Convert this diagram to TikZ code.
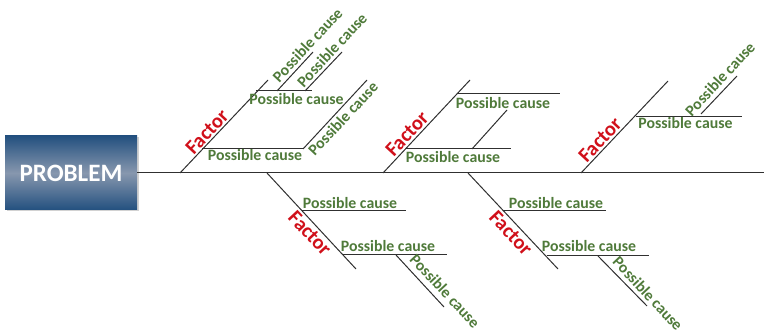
\documentclass[tikz,border=0pt]{standalone}
\usepackage{fontspec}
\setmainfont{Carlito}
\usetikzlibrary{shadows}
\definecolor{causegreen}{HTML}{4F7A3A}
\definecolor{factorred}{HTML}{D0101A}
\definecolor{boxdark}{HTML}{23507F}
\definecolor{boxlight}{HTML}{8797AE}
\definecolor{linegray}{HTML}{303030}
\tikzset{
  bone/.style={draw=linegray, line width=1pt},
  cause/.style={text=causegreen, font=\fontsize{15.8}{16}\selectfont\bfseries, inner sep=0pt},
  factor/.style={text=factorred, font=\fontsize{20.5}{20}\selectfont\bfseries, inner sep=0pt},
  problem/.style={draw=none, minimum width=132pt, minimum height=74pt, inner sep=0pt,
    top color=boxdark, bottom color=boxdark, middle color=boxlight,
    drop shadow={shadow xshift=1.5pt, shadow yshift=-1.5pt, fill=black!35},
    text=white, font=\fontsize{25}{25}\selectfont\bfseries},
}
\begin{document}
\begin{tikzpicture}[x=1pt,y=-1pt]
\useasboundingbox (0,0) rectangle (764,331);
\node[problem] (P) at (71,173) {PROBLEM};
\coordinate (S) at (764,173);
\draw[bone] (P.east) -- (S);

% top factor 1
\draw[bone] (180,173) coordinate (f1s) -- (268,80) coordinate (f1e);
\draw[bone] (202,149) coordinate (h1as) -- (303,149) coordinate (h1ae);
\draw[bone] (h1ae) -- (367,80) coordinate (d1ae);
\draw[bone] (256,91) coordinate (h1bs) -- (312,91) coordinate (h1be);
\draw[bone] (277,91) coordinate (d1bs) -- (313,52) coordinate (d1be);
\draw[bone] (305,91) coordinate (d1cs) -- (342,52) coordinate (d1ce);
\node[factor, rotate=47] (F1) at (207,132) {Factor};
\node[cause] (c1a) at (255,155.5) {Possible cause};
\node[cause] (c1b) at (296.5,99) {Possible cause};
\node[cause, rotate=47] (c1ad) at (343,118.5) {Possible cause};
\node[cause, rotate=47] (c1bd) at (307.5,45) {Possible cause};
\node[cause, rotate=47] (c1cd) at (332,50) {Possible cause};

% top factor 2
\draw[bone] (383,173) coordinate (f2s) -- (470,80) coordinate (f2e);
\draw[bone] (457,94) coordinate (h2as) -- (560,94) coordinate (h2ae);
\draw[bone] (406,149) coordinate (h2bs) -- (511,149) coordinate (h2be);
\draw[bone] (472,149) coordinate (d2s) -- (507,110) coordinate (d2e);
\node[factor, rotate=47] (F2) at (407,134) {Factor};
\node[cause] (c2a) at (503,103) {Possible cause};
\node[cause] (c2b) at (453,157) {Possible cause};

% top factor 3
\draw[bone] (581,173) coordinate (f3s) -- (668,81) coordinate (f3e);
\draw[bone] (636,117) coordinate (h3s) -- (742,117) coordinate (h3e);
\draw[bone] (701,114) coordinate (d3s) -- (737,76) coordinate (d3e);
\node[factor, rotate=47] (F3) at (600,140) {Factor};
\node[cause] (c3) at (685.5,123) {Possible cause};
\node[cause, rotate=47] (c3d) at (720,79) {Possible cause};

% bottom factor 1
\draw[bone] (267,173) coordinate (b1s) -- (356,269) coordinate (b1e);
\draw[bone] (302,211) coordinate (hb1as) -- (406,211) coordinate (hb1ae);
\draw[bone] (343,255) coordinate (hb1bs) -- (447,255) coordinate (hb1be);
\draw[bone] (396,255) coordinate (db1s) -- (444,307) coordinate (db1e);
\node[factor, rotate=-47] (B1) at (310,233.5) {Factor};
\node[cause] (cb1a) at (350,203.5) {Possible cause};
\node[cause] (cb1b) at (388,246) {Possible cause};
\node[cause, rotate=-47] (cb1d) at (445,291) {Possible cause};

% bottom factor 2
\draw[bone] (468,173) coordinate (b2s) -- (558,269) coordinate (b2e);
\draw[bone] (503,211) coordinate (hb2as) -- (606,211) coordinate (hb2ae);
\draw[bone] (547,256) coordinate (hb2bs) -- (649,256) coordinate (hb2be);
\draw[bone] (598,256) coordinate (db2s) -- (647,306) coordinate (db2e);
\node[factor, rotate=-47] (B2) at (511,233) {Factor};
\node[cause] (cb2a) at (556,203) {Possible cause};
\node[cause] (cb2b) at (589,246) {Possible cause};
\node[cause, rotate=-47] (cb2d) at (648,293.5) {Possible cause};
\end{tikzpicture}
\end{document}
